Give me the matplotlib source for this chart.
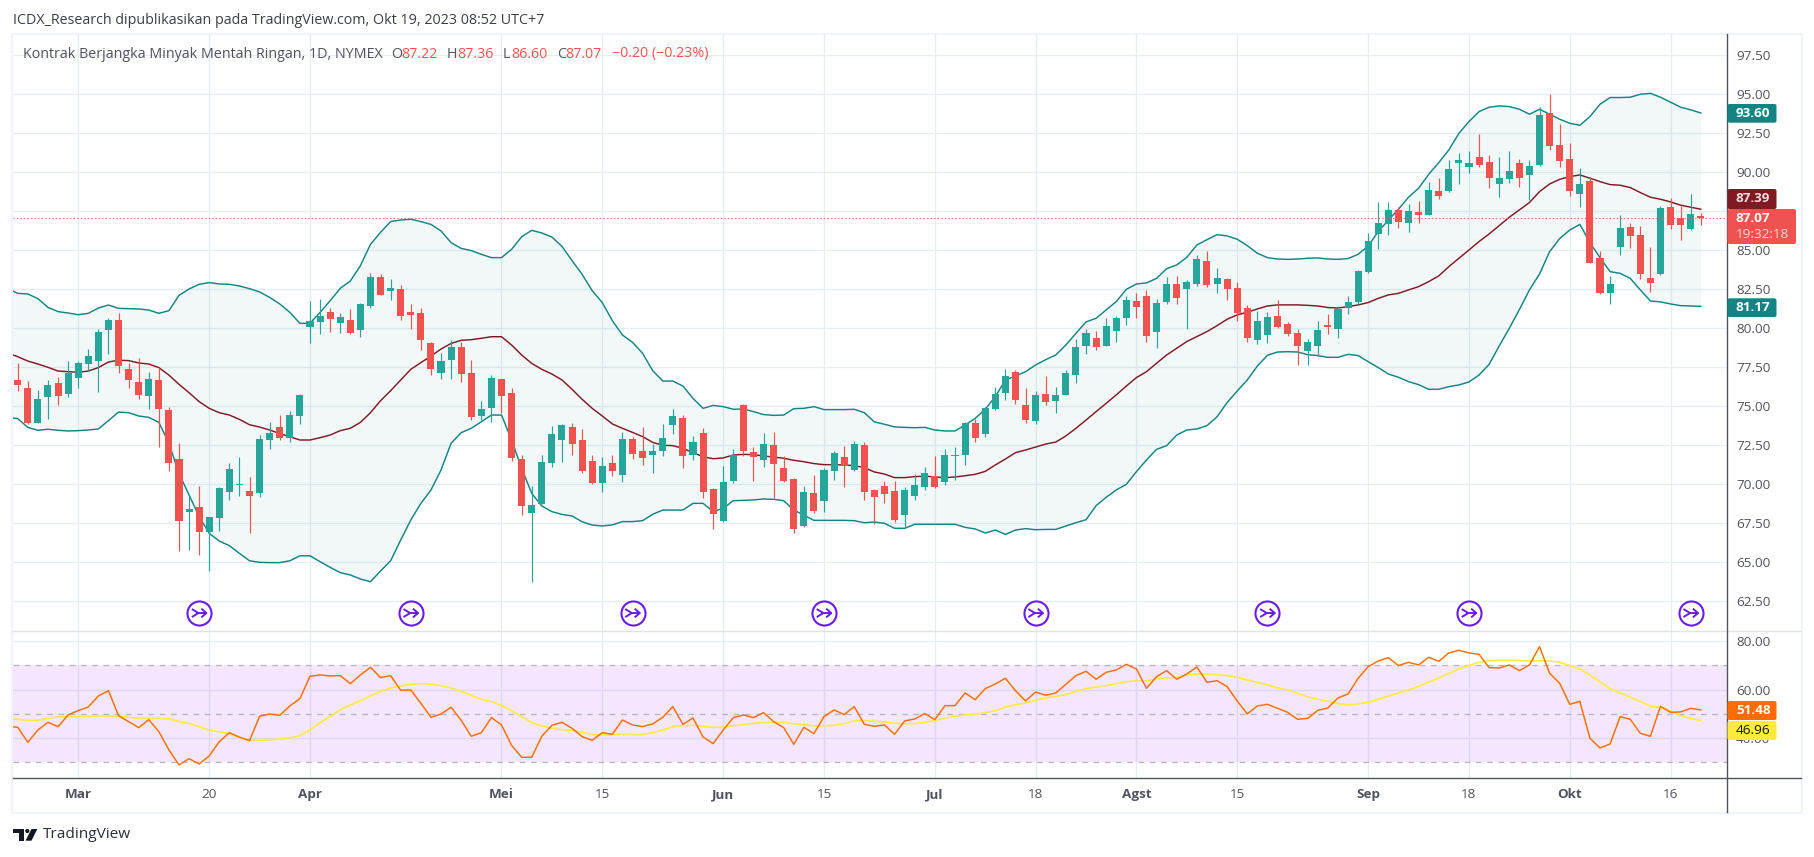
import numpy as np
import matplotlib
matplotlib.use('Agg')
import matplotlib.pyplot as plt
from matplotlib.lines import Line2D
from matplotlib.patches import Rectangle, FancyBboxPatch, Polygon, Circle
from matplotlib.path import Path
from matplotlib.transforms import Affine2D

W, H = 1815, 857

##daily candles
opens = [76.69,76.17,73.95,75.62,76.49,75.79,76.81,77.71,77.9,79.89,80.53,77.39,76.56,75.66,76.69,74.76,71.62,68.22,68.55,66.94,
    67.84,69.51,69.98,69.57,69.44,72.84,73.67,72.97,74.38,80.08,80.41,81.05,80.34,80.53,79.89,81.43,83.29,82.39,82.52,81.05,
    80.98,79.06,77.13,77.97,78.8,77.13,74.38,74.89,76.75,75.85,71.62,68.16,68.74,71.37,72.84,73.67,72.84,71.49,70.08,71.37,
    70.6,72.9,72.13,71.88,72.13,73.8,74.25,71.88,73.29,69.7,67.65,70.21,75.09,72.07,71.56,72.52,71.05,70.34,67.33,69.45,
    68.93,70.85,71.75,70.92,72.52,69.64,69.89,69.57,68.03,69.25,69.83,70.53,70.15,71.82,71.88,73.93,73.23,74.83,75.85,77.2,
    75.09,74.06,75.79,75.34,75.73,77.01,78.87,79.38,78.87,79.83,80.66,81.75,82.07,79.76,81.69,82.84,82.52,82.84,84.31,82.84,
    83.16,82.59,81.3,79.25,79.57,80.79,80.28,79.7,78.55,78.87,80.21,79.96,81.3,81.69,83.61,86.05,86.69,87.59,86.75,87.46,
    87.27,88.8,88.8,90.6,90.34,90.98,90.66,89.25,89.57,90.6,89.83,90.47,93.8,91.75,90.86,88.61,89.45,84.51,82.27,85.21,
    86.5,85.98,83.23,83.48,87.78,87.07,86.37,87.22]
closes = [76.37,73.91,75.47,76.37,75.68,77.16,77.77,78.22,79.76,80.53,77.58,76.69,75.72,76.75,74.83,71.37,67.65,68.42,66.94,67.9,
    69.76,70.98,70.02,69.25,72.9,73.29,72.97,74.44,75.72,80.47,80.79,80.6,80.72,79.68,81.56,83.29,82.13,82.58,80.79,80.85,
    79.25,77.39,77.9,78.8,77.07,74.31,74.83,76.81,75.66,71.69,68.61,68.67,71.43,73.22,73.8,72.59,70.85,70.08,71.18,70.85,
    72.9,71.94,71.68,72.13,72.97,74.38,71.82,72.71,69.51,68.1,70.15,71.88,72.13,71.75,72.58,71.3,70.21,67.14,69.51,68.29,
    70.92,72.0,71.18,72.58,69.51,69.19,69.38,67.71,69.64,69.96,70.73,69.83,71.88,71.88,73.93,72.97,74.89,75.79,76.94,75.41,
    74.12,75.73,75.28,75.73,77.14,78.8,79.7,78.8,80.15,80.66,81.82,81.37,79.51,81.62,82.84,81.94,82.97,84.44,82.78,83.23,
    82.52,80.98,79.38,80.47,80.73,80.09,79.64,78.87,79.13,79.89,80.09,81.24,81.69,83.68,85.6,86.75,87.59,86.82,87.52,87.27,
    88.87,88.48,90.21,90.79,90.6,90.47,89.64,89.64,90.09,89.64,90.41,93.68,91.69,90.73,88.8,89.25,84.19,82.27,82.84,86.43,
    85.92,83.48,82.91,87.71,86.63,86.63,87.33,87.07]
highs = [77.75,76.6,76.02,76.69,76.86,77.88,77.88,78.65,79.93,80.64,80.96,77.75,78.07,77.18,77.45,74.95,72.63,69.31,69.89,67.9,
    69.81,71.37,71.75,70.47,73.14,73.97,74.44,74.7,75.79,81.75,81.88,81.3,80.98,81.24,81.62,83.52,83.46,83.14,82.77,81.56,
    81.3,79.12,78.39,79.23,79.12,77.97,75.34,76.99,76.75,76.17,71.88,69.89,71.88,73.74,73.87,73.93,73.55,71.88,
    71.75,71.88,73.35,73.03,73.67,72.58,73.87,74.83,74.44,73.1,73.61,69.77,71.18,72.27,75.13,72.39,73.29,73.35,71.82,70.41,
    69.89,70.6,71.05,72.13,72.45,72.78,72.71,69.7,70.21,70.21,69.83,70.66,71.11,71.82,72.27,72.39,74.0,74.19,74.98,76.24,
    77.39,77.33,76.18,75.98,76.94,76.24,77.33,79.32,79.96,79.83,80.66,80.79,
    82.07,82.26,82.46,81.88,83.29,83.35,83.1,84.7,84.94,83.87,83.23,82.97,81.5,81.11,81.05,81.82,80.41,79.96,79.32,80.47,
    80.92,81.43,82.07,83.74,86.09,88.1,88.1,87.78,87.97,88.16,89.38,89.64,90.79,91.24,91.37,92.46,91.11,90.98,91.37,90.86,
    90.79,94.19,95.0,93.1,91.88,90.28,89.7,84.96,83.36,87.27,86.75,86.56,85.21,87.84,88.36,87.84,88.61,87.36]
lows = [76.0,73.87,73.95,74.19,75.08,75.6,76.17,77.28,75.92,78.35,77.13,76.17,75.47,74.83,72.39,70.85,65.72,65.79,65.47,64.44,
    67.0,69.0,69.25,66.88,69.19,72.26,72.84,72.71,73.87,79.06,79.63,79.76,79.7,79.63,79.44,81.3,82.13,81.81,80.53,79.95,
    78.61,77.0,76.75,76.75,76.56,74.12,74.12,73.99,74.55,71.49,68.03,63.74,68.74,71.13,71.43,71.88,70.72,70.04,
    69.5,70.53,70.15,71.62,71.24,70.73,71.82,73.23,71.05,71.56,69.13,67.14,67.6,70.08,71.82,70.21,71.11,69.13,70.15,66.88,
    67.26,68.16,68.23,70.28,69.83,70.85,69.0,67.46,68.8,67.58,67.2,69.0,69.64,69.77,69.96,70.28,71.24,72.71,73.03,74.77,
    75.41,75.15,73.93,73.87,75.09,74.57,75.73,76.5,78.36,78.61,78.87,79.12,
    80.21,80.66,79.12,78.74,81.56,81.56,79.96,82.72,82.65,82.27,81.82,80.47,79.13,79.0,79.06,80.02,79.51,77.65,77.65,78.23,
    79.64,79.38,80.92,81.56,83.55,85.08,85.98,86.43,86.18,86.75,87.27,88.29,88.74,89.25,89.96,90.34,89.0,88.42,89.32,89.06,
    88.23,90.43,91.43,90.34,88.48,87.78,84.19,82.2,81.56,84.7,85.15,83.16,82.33,83.42,86.37,85.66,86.3,86.6]

##bollinger bands, first value belongs to the day just off the left edge
bb_upper = [82.55,82.24,82.2,81.9,81.34,81.07,80.98,80.87,80.96,81.3,81.49,81.28,81.26,81.24,81.17,80.96,81.13,82.11,82.52,82.82,82.93,
    82.84,82.82,82.71,82.54,82.33,81.98,81.56,81.02,80.32,80.32,81.02,81.77,82.56,83.03,84.01,85.38,86.15,86.84,86.94,86.99,
    86.84,86.66,86.24,85.49,85.12,84.98,84.74,84.53,84.53,85.06,85.87,86.28,86.11,85.85,85.25,84.34,83.46,82.41,
    81.65,80.49,79.57,79.1,78.4,77.29,76.62,76.62,76.3,75.51,74.87,75.06,74.98,74.81,74.83,74.66,74.47,74.42,74.44,74.85,
    74.87,74.98,74.79,74.79,74.79,74.81,74.59,74.0,73.85,73.68,73.65,73.63,73.65,73.48,73.42,73.42,73.8,74.23,74.81,75.62,
    76.69,76.94,77.22,77.65,77.99,78.29,78.93,79.68,80.41,80.64,81.18,81.71,
    82.5,82.84,82.91,83.2,83.82,84.06,84.55,85.34,
    85.68,86.0,85.92,85.71,85.3,84.81,84.53,84.44,84.42,84.44,84.49,84.51,84.44,84.42,84.47,84.74,85.28,86.2,86.94,87.63,
    88.4,88.98,89.87,90.62,91.43,92.5,93.25,93.89,94.17,94.25,94.21,94.04,93.72,94.04,93.72,93.4,93.14,93.01,93.57,94.36,
    94.79,94.79,94.81,95.0,95.06,94.81,94.49,94.17,94.0,93.8]
bb_mid = [78.42,78.18,77.9,77.71,77.5,77.26,77.22,77.18,77.26,77.48,77.84,77.95,77.93,77.78,77.71,77.48,77.0,76.41,75.87,75.3,74.87,
    74.59,74.44,74.16,73.82,73.67,73.48,73.25,73.05,72.84,72.84,72.99,73.16,73.44,73.59,73.97,74.59,75.36,76.0,76.69,77.37,
    77.8,78.22,78.67,79.03,79.23,79.27,79.36,79.46,79.46,78.93,78.29,77.75,77.37,77.07,76.69,76.09,75.45,74.87,74.38,73.87,
    73.59,73.33,73.06,72.69,72.5,72.48,72.31,72.03,71.77,71.64,71.69,71.88,71.92,71.9,71.82,71.75,71.67,71.54,71.45,71.33,
    71.26,71.26,71.24,71.2,71.07,70.79,70.66,70.43,70.43,70.49,70.53,70.47,70.43,70.47,70.55,70.64,70.83,71.24,71.62,72.03,
    72.2,72.39,72.58,72.71,73.1,73.59,74.12,74.66,75.19,75.73,76.3,76.84,77.22,77.76,78.29,78.72,79.15,79.47,79.79,80.17,
    80.58,80.86,81.03,81.24,81.43,81.5,81.5,81.5,81.47,81.43,81.33,81.3,81.39,81.5,81.65,81.92,82.14,82.24,82.46,82.67,
    82.99,83.36,83.95,84.49,85.02,85.56,86.05,86.58,87.12,87.59,88.06,88.76,89.25,89.55,89.72,89.83,89.62,89.4,89.21,89.17,
    89.02,88.7,88.4,88.27,88.1,87.89,87.76,87.63]
bb_lower = [74.28,74.21,73.65,73.46,73.53,73.46,73.42,73.44,73.48,73.55,74.08,74.63,74.59,74.38,74.29,73.97,72.63,70.7,69.31,67.93,66.86,
    66.36,66.07,65.57,65.1,65.0,64.98,64.98,65.1,65.42,65.42,65.04,64.68,64.34,64.19,63.93,63.76,64.44,65.1,66.43,67.71,
    68.78,69.63,70.92,72.63,73.31,73.59,74.01,74.44,74.44,72.84,71.02,69.42,68.61,68.25,68.07,67.97,67.6,67.39,67.33,67.4,
    67.61,67.61,67.67,68.08,68.35,68.35,68.35,68.78,68.78,68.25,68.46,68.95,68.97,69.0,69.06,69.04,68.95,68.35,68.03,67.69,
    67.69,67.69,67.69,67.67,67.54,67.58,67.5,67.18,67.18,67.44,67.44,67.44,67.44,67.44,67.24,67.14,66.88,67.07,66.79,67.07,
    67.16,67.09,67.11,67.11,67.33,67.54,67.73,68.63,69.17,69.64,70.0,70.81,71.56,72.24,72.48,73.16,73.48,73.55,73.76,74.33,
    75.24,75.98,76.69,77.58,78.27,78.48,78.5,78.48,78.31,78.25,78.14,78.14,78.33,78.25,77.86,77.48,77.07,76.86,76.58,76.39,
    76.09,76.09,76.26,76.37,76.56,77.01,77.69,78.87,80.0,81.2,82.46,83.48,84.91,85.75,86.3,86.66,85.49,84.53,83.63,83.52,
    83.2,82.46,81.75,81.69,81.56,81.45,81.43,81.41]

##rsi pane, same first value off the edge
rsi = [44.9,44.43,38.25,43.33,46.49,44.71,49.52,51.31,52.82,57.35,59.55,49.24,46.77,44.3,47.59,42.65,35.09,28.9,31.51,29.31,32.61,
    38.52,42.23,40.31,38.93,48.97,49.93,49.38,53.23,56.25,65.46,66.01,65.6,65.74,62.44,66.01,69.18,64.91,65.74,59.69,59.83,
    54.33,48.56,49.93,52.68,47.32,40.72,42.23,48.42,45.4,37.01,32.06,32.06,40.72,45.26,46.49,44.02,40.58,39.07,42.23,41.55,
    47.46,45.4,44.71,45.81,48.56,52.96,45.67,48.28,40.45,37.7,43.33,48.42,49.52,48.42,50.48,46.77,44.3,37.42,44.43,41.82,
    48.83,51.58,49.66,52.96,45.67,44.85,45.4,41.55,47.04,47.87,50.07,47.59,53.37,53.37,58.59,55.84,60.38,62.3,64.64,59.55,
    55.29,59.0,57.63,58.59,62.16,65.74,67.53,64.23,67.11,68.08,70.41,68.49,60.52,65.33,67.8,64.23,66.43,69.31,62.99,63.68,
    61.2,55.29,49.93,53.23,53.92,52.27,50.62,47.73,48.14,51.44,52.41,56.53,58.18,64.64,69.45,71.79,73.16,69.86,71.24,70.14,
    73.3,71.65,75.09,76.19,75.09,74.54,69.04,68.9,70.14,67.8,70.14,77.7,66.7,62.58,53.92,55.15,39.9,35.91,37.56,48.83,
    47.73,41.96,40.72,53.09,50.62,50.76,52.27,51.58]
rsi_ma = [47.9,47.73,47.32,47.32,48.14,48.69,48.83,48.83,48.97,49.1,49.1,49.1,48.55,48.14,48.14,48.14,47.87,46.91,45.94,44.71,43.33,
    42.51,41.82,40.31,39.21,39.07,39.21,39.62,40.03,41.0,43.33,46.36,48.97,51.58,53.64,55.43,57.35,59.27,60.65,61.47,62.16,
    62.44,62.16,61.61,60.65,59.27,57.63,55.98,55.02,53.5,51.3,48.83,46.36,44.98,44.02,43.47,43.2,42.37,41.41,41.27,41.41,
    41.54,41.41,41.41,42.23,43.33,44.71,45.12,45.26,44.85,44.43,44.43,45.12,45.53,46.08,46.36,46.49,46.49,45.81,45.53,44.98,
    45.12,45.26,45.94,47.18,47.18,46.91,46.63,46.08,45.94,45.94,46.49,47.32,48.14,48.97,49.52,49.79,50.48,51.3,52.82,53.78,
    54.46,55.7,56.53,57.21,57.9,59.27,60.38,61.06,61.61,62.44,63.26,63.54,63.54,64.36,64.77,65.05,66.01,66.42,66.28,66.15,
    65.74,65.05,63.95,62.99,61.89,60.65,59.83,58.45,56.94,55.98,55.15,54.19,53.78,54.05,54.74,55.98,57.35,58.59,59.83,61.34,
    63.12,64.77,66.7,68.49,70.0,71.24,71.92,72.06,72.06,71.92,71.78,71.92,71.78,71.24,69.86,68.49,66.01,63.12,60.38,58.59,
    56.94,55.02,53.23,52.54,51.16,49.24,48.14,47.18]

for name, series in [('opens', opens), ('closes', closes), ('highs', highs), ('lows', lows)]:
    assert len(series) == 168, (name, len(series))
for name, series in [('bb_upper', bb_upper), ('bb_mid', bb_mid), ('bb_lower', bb_lower), ('rsi', rsi), ('rsi_ma', rsi_ma)]:
    assert len(series) == 169, (name, len(series))

price_ticks = [62.5, 65, 67.5, 70, 72.5, 75, 77.5, 80, 82.5, 85, 87.5, 90, 92.5, 95, 97.5]
rsi_ticks = [40, 60, 80]
time_ticks = [6, 19, 29, 48, 58, 70, 80, 91, 101, 111, 121, 134, 144, 154, 164]
time_labels = ['Mar', '20', 'Apr', 'Mei', '15', 'Jun', '15', 'Jul', '18', 'Agst', '15', 'Sep', '18', 'Okt', '16']
expiry_days = [18, 39, 61, 80, 101, 124, 144, 166]

GREEN, RED = '#26a69a', '#ef5350'
TEAL, MAROON = '#138484', '#801922'
GRID = '#e5edf3'
TEXT = '#50535e'
FONT = 'Open Sans'
plt.rcParams['font.family'] = [FONT, 'DejaVu Sans']

def px(x, y):
    """pixel position (from top left) to figure fraction"""
    return x / W, 1 - y / H

def ax_box(left, top, right, bottom):
    return [left / W, 1 - bottom / H, (right - left) / W, (bottom - top) / H]

fig = plt.figure(figsize=(W / 100, H / 100), dpi=100, facecolor='white')
ax = fig.add_axes(ax_box(13, 34.5, 1727, 631.3))
ax2 = fig.add_axes(ax_box(13, 631.3, 1727, 778.3))
xs = np.arange(168)
line_xs = np.arange(-1, 168)
xlim = (-0.47, 169.6)

##price pane
ax.set_xlim(xlim)
ax.set_ylim(60.58, 98.83)
ax.fill_between(line_xs, bb_lower, bb_upper, color=TEAL, alpha=0.05, lw=0, zorder=1)
ax.plot(line_xs, bb_upper, color=TEAL, lw=1.05, zorder=2)
ax.plot(line_xs, bb_lower, color=TEAL, lw=1.05, zorder=2)
ax.plot(line_xs, bb_mid, color=MAROON, lw=1.05, zorder=2)
colors = [GREEN if c >= o else RED for o, c in zip(opens, closes)]
ax.vlines(xs, lows, highs, colors=colors, lw=0.85, zorder=3)
ax.bar(xs, np.abs(np.array(closes) - np.array(opens)), bottom=np.minimum(opens, closes), width=0.7,
       color=colors, lw=0, zorder=3)
ax.axhline(closes[-1], color=RED, lw=0.8, ls=(0, (1, 2.2)), zorder=4)

##expiry markers at the bottom of the price pane
merge_arrow = Path([(-1, 0.55), (-0.1, 0), (1, 0), (0.3, 0.6), (1, 0), (0.3, -0.6), (-1, -0.55), (-0.1, 0)],
                   [Path.MOVETO, Path.LINETO, Path.LINETO, Path.LINETO, Path.MOVETO, Path.LINETO, Path.MOVETO, Path.LINETO])
ax.scatter(expiry_days, [61.75] * len(expiry_days), s=300, facecolors='white', edgecolors='#6a1cf0', lw=1.5, zorder=5)
ax.scatter(expiry_days, [61.75] * len(expiry_days), s=110, marker=merge_arrow, facecolors='none', edgecolors='#6a1cf0', lw=1.4, zorder=6)

##rsi pane
ax2.set_xlim(xlim)
ax2.set_ylim(23.4, 84.02)
ax2.axhspan(30, 70, color='#b658f2', alpha=0.15, lw=0, zorder=1)
for level in [30, 50, 70]:
    ax2.axhline(level, color='#b2b5be', lw=0.9, ls=(0, (4.5, 4.5)), zorder=2)
ax2.plot(line_xs, rsi_ma, color='#ffeb3b', lw=1.2, zorder=3)
ax2.plot(line_xs, rsi, color='#ff6d00', lw=1.05, zorder=4)

for a, ticks in [(ax, price_ticks), (ax2, rsi_ticks)]:
    a.set_facecolor('white')
    for s in a.spines.values():
        s.set_visible(False)
    a.yaxis.tick_right()
    a.set_yticks(ticks)
    ##the 87.50 label sits hidden behind the price tags in the original
    a.set_yticklabels(['' if t == 87.5 else '%.2f' % t for t in ticks])
    a.tick_params(axis='y', length=0, pad=6.5, labelsize=9.7, labelcolor=TEXT)
    a.set_xticks(time_ticks)
    a.grid(True, color=GRID, lw=0.95, zorder=0)
    a.set_axisbelow(True)
ax.tick_params(axis='x', length=0, labelbottom=False)
ax2.set_xticklabels(time_labels)
ax2.tick_params(axis='x', length=0, pad=7, labelsize=9.7, labelcolor=TEXT)
for tick in ax2.get_xticklabels():
    if not tick.get_text().isdigit():
        tick.set_fontweight('bold')

##frame and pane separators
fig.add_artist(Rectangle(px(12, 813), 1790 / W, 779 / H, transform=fig.transFigure, fill=False, ec='#f0f3fa', lw=1.5, zorder=1))
fig.add_artist(Line2D(*zip(px(13, 631.3), px(1801, 631.3)), color='#e0e3eb', lw=1, zorder=2))
fig.add_artist(Line2D(*zip(px(13, 778.3), px(1801, 778.3)), color=TEXT, lw=1, zorder=2))
fig.add_artist(Line2D(*zip(px(1727, 34), px(1727, 812)), color=TEXT, lw=1, zorder=2))

##price labels on the axis
pixel_transform = Affine2D().scale(1 / W, 1 / H) + fig.transFigure

def axis_tag(top, bottom, color, lines, right=1776.5):
    fig.add_artist(FancyBboxPatch((1727.5, H - bottom), right - 1727.5, bottom - top, boxstyle='round,pad=0,rounding_size=2',
                                  transform=pixel_transform, fc=color, ec='none', zorder=3))
    for y, label, tc, weight in lines:
        fig.text(*px(1736, y), label, color=tc, fontsize=9.7, va='center', ha='left', fontweight=weight, zorder=4)

axis_tag(104, 122.7, TEAL, [(113.5, '93.60', 'white', 'bold')])
axis_tag(189, 209, MAROON, [(199, '87.39', '#f2dede', 'bold')])
axis_tag(209, 244, RED, [(219, '87.07', 'white', 'bold'), (235, '19:32:18', '#fcd9d8', 'normal')], right=1796)
axis_tag(298.3, 317, TEAL, [(307.8, '81.17', 'white', 'bold')])
axis_tag(701, 720, '#ff6d00', [(710.5, '51.48', 'white', 'bold')])
axis_tag(721, 740, '#ffeb3b', [(730.5, '46.96', '#131722', 'normal')])

##header and legend
fig.text(*px(13, 20), 'ICDX_Research dipublikasikan pada TradingView.com, Okt 19, 2023 08:52 UTC+7', color='#3b3e47',
         fontsize=10.3, va='center')
fig.text(*px(23, 54), 'Kontrak Berjangka Minyak Mentah Ringan, 1D, NYMEX', color=TEXT, fontsize=10.3, va='center')
for x, label, tc in [(391.5, 'O', TEXT), (401, '87.22', RED), (447, 'H', TEXT), (457, '87.36', RED), (503, 'L', TEXT),
                     (511, '86.60', RED), (557, 'C', TEXT), (565, '87.07', RED), (612, '\u22120.20 (\u22120.23%)', RED)]:
    fig.text(*px(x, 54), label, color=tc, fontsize=10.3, va='center')

##tradingview mark in the bottom left corner
fig.add_artist(Polygon([px(13.3, 829), px(24, 829), px(24, 840.7), px(18.7, 840.7), px(18.7, 833), px(13.3, 833)],
                       transform=fig.transFigure, fc='#131722', ec='none', zorder=3))
fig.add_artist(Circle((27.3, H - 831), 2.1, transform=pixel_transform, fc='#131722', ec='none', zorder=3))
fig.add_artist(Polygon([px(31.5, 829), px(37.3, 829), px(31.5, 840.7), px(25.5, 840.7)], transform=fig.transFigure,
                       fc='#131722', ec='none', zorder=3))
fig.text(*px(42.7, 835), 'TradingView', color='#2a2e39', fontsize=11.1, va='center')

fig.savefig('out.png', dpi=100)
